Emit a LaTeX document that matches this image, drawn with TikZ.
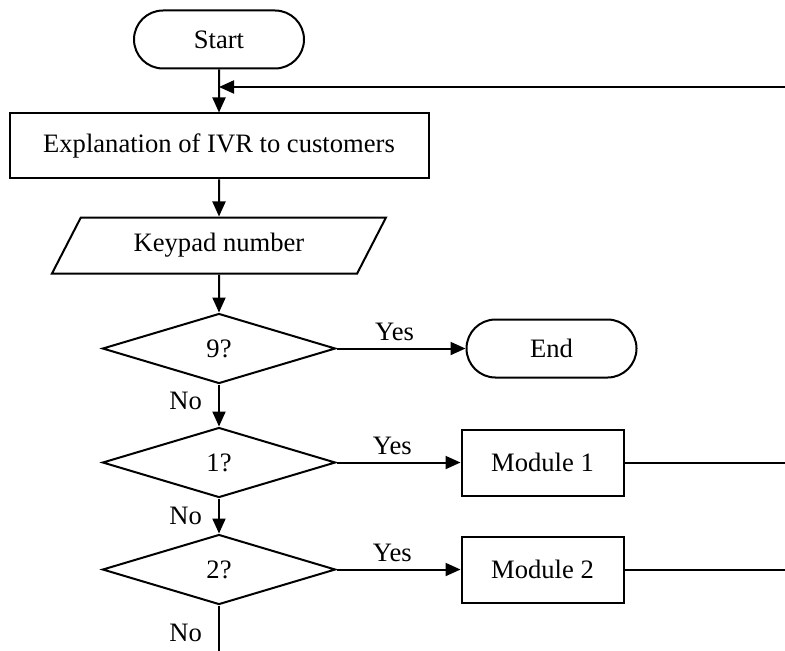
\documentclass[tikz,border=0pt]{standalone}
\usepackage{fontspec}
\setmainfont{Liberation Serif}
\usepackage{tikz}
\usetikzlibrary{shapes,arrows.meta,positioning}

\begin{document}
\begin{tikzpicture}[
  x=0.5pt, y=-0.5pt,
  line width=1pt,
  every node/.style={font=\fontsize{13.3}{15}\selectfont},
  term/.style={draw, rounded rectangle, minimum width=85pt, minimum height=29pt, inner sep=0pt},
  procbox/.style={draw, rectangle, minimum width=81pt, minimum height=33pt, inner sep=0pt},
  iobox/.style={draw, trapezium, trapezium left angle=40, trapezium right angle=140,
    trapezium stretches body, minimum width=167pt, minimum height=28pt, inner sep=0pt},
  decision/.style={draw, diamond, minimum width=116.5pt, minimum height=35pt, inner sep=0pt},
  lbl/.style={inner sep=2pt},
  arr/.style={-{Triangle[length=7.5pt, width=6.5pt]}}
]
\useasboundingbox (0,0) rectangle (785,651);

\node[term] (start) at (219,39.5) {Start};
\node[procbox, minimum width=209.5pt, minimum height=32.5pt, below=21.5pt of start] (expl) {Explanation of IVR to customers};
\node[iobox, below=18.5pt of expl] (keypad) {Keypad number};
\node[decision, below=19pt of keypad] (q9) {9?};
\node[decision, below=21pt of q9] (q1) {1?};
\node[decision, below=17.5pt of q1] (q2) {2?};

\node[term, right=64.5pt of q9] (fin) {End};
\node[procbox, right=62pt of q1] (mod1) {Module 1};
\node[procbox, right=62pt of q2] (mod2) {Module 2};

% return line from the modules
\coordinate (back) at (785,87);
\coordinate (join) at (start.south |- back);
\coordinate (exit) at (q2.south |- 0,651);

\draw[arr] (start) -- (expl);
\draw[arr] (back) -- (join);
\draw[arr] (expl) -- (keypad);
\draw[arr] (keypad) -- (q9);
\draw[arr] (q9) -- node[lbl, above=1.5pt, pos=0.45] {Yes} (fin);
\draw[arr] (q9) -- node[lbl, left=6pt, pos=0.4] {No} (q1);
\draw[arr] (q1) -- node[lbl, above=1.5pt, pos=0.45] {Yes} (mod1);
\draw[arr] (q1) -- node[lbl, left=6pt, pos=0.5] {No} (q2);
\draw[arr] (q2) -- node[lbl, above=1.5pt, pos=0.45] {Yes} (mod2);
\draw (q2) -- node[lbl, left=6pt, pos=0.6] {No} (exit);
\draw (mod1) -- (mod1 -| back);
\draw (mod2) -- (mod2 -| back);
\end{tikzpicture}
\end{document}
